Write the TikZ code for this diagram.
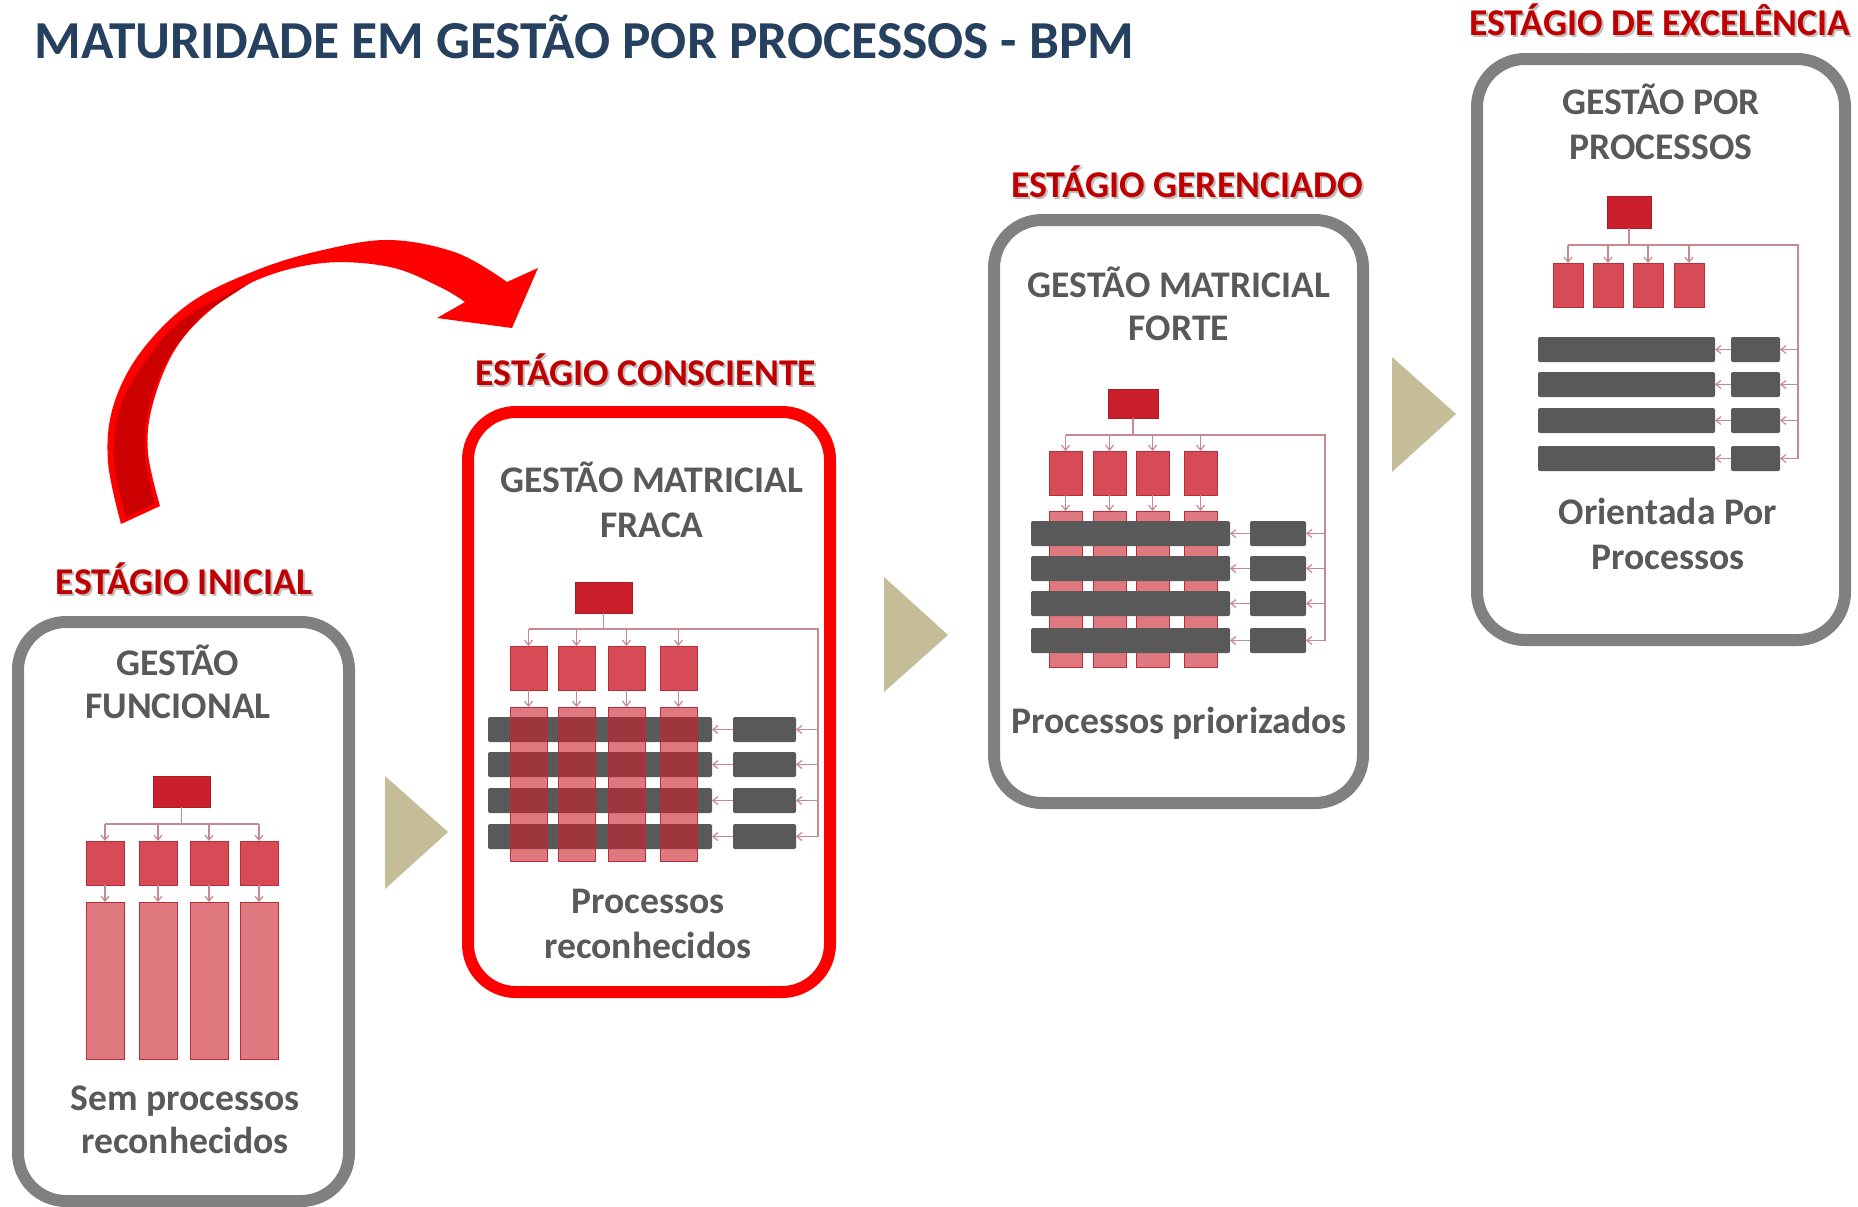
\documentclass[tikz,border=0pt]{standalone}
\usepackage{fontspec}
\setmainfont{Carlito}
\usetikzlibrary{arrows.meta,fit}

\definecolor{titleblue}{HTML}{26405F}
\definecolor{stagered}{HTML}{C00000}
\definecolor{txtgray}{HTML}{595959}
\definecolor{framegray}{HTML}{808080}
\definecolor{chevtan}{HTML}{C4BD97}
\definecolor{chief}{HTML}{CB1F2B}
\definecolor{dept}{HTML}{D64B55}
\definecolor{deptline}{HTML}{B82D38}
\definecolor{column}{HTML}{E07880}
\definecolor{procgray}{HTML}{595959}
\definecolor{wire}{HTML}{C98791}
\definecolor{arrowred}{HTML}{FF0000}
\definecolor{arrowdark}{HTML}{CC0000}

\tikzset{
  panel/.style={inner sep=0pt, outer sep=0pt, line width=6pt, rounded corners=24pt, fill=white},
  stagetext/.style={font=\bfseries\fontsize{18.9}{22}\selectfont, text=stagered, inner sep=0pt, anchor=base},
  stageshadow/.style={stagetext, text=black, text opacity=0.25},
  boxtext/.style={font=\bfseries\fontsize{18.8}{22}\selectfont, text=txtgray, inner sep=0pt, anchor=base},
  blk/.style={inner sep=0pt, outer sep=0pt, line width=0.5pt},
  chiefbox/.style={blk, fill=chief, draw=chief!85!black},
  deptbox/.style={blk, fill=dept, draw=deptline},
  colbox/.style={blk, fill=column, draw=deptline},
  colglass/.style={blk, fill=chief, fill opacity=0.6, draw=deptline},
  procbar/.style={blk, fill=procgray, rounded corners=1pt},
  wireline/.style={draw=wire, line width=0.6pt},
  wirearrow/.style={wireline, -{Straight Barb[length=2.5pt,width=4pt]}},
  chevron/.style={fill=chevtan}
}

\begin{document}
\begin{tikzpicture}[x=0.5pt,y=-0.5pt]
\useasboundingbox[fill=white] (0,0) rectangle (1858,1206);

% ---------- title ----------
\node[font=\bfseries\fontsize{26.7}{30}\selectfont, text=titleblue, inner sep=0pt, anchor=base west]
  (title) at (34,58) {MATURIDADE EM GESTÃO POR PROCESSOS - BPM};

% ---------- curved arrow ----------
\fill[arrowred]
  plot[smooth, tension=0.6] coordinates {(121,524) (108,462) (113,407) (140,353) (190,303) (257,270) (323,250) (390,240) (457,253) (507,282)}
  -- (538,268) -- (512,328) -- (437,318)
  -- plot[smooth, tension=0.6] coordinates {(465,302) (440,287) (390,267) (323,263) (257,280) (207,313) (173,353) (152,407) (148,453) (160,506)}
  -- cycle;
\fill[arrowdark]
  plot[smooth, tension=0.6] coordinates {(126,518) (114,460) (121,405) (150,355) (185,318) (250,283)}
  -- plot[smooth, tension=0.6] coordinates {(204,313) (170,355) (149,407) (145,453) (155,503)}
  -- cycle;

% ---------- chevrons between stages ----------
\fill[chevron] (385,776) -- (448,832) -- (385,889) -- cycle;
\fill[chevron] (884,577) -- (948,635) -- (884,692) -- cycle;
\fill[chevron] (1392,357) -- (1456,414) -- (1392,472) -- cycle;

% ---------- stage labels ----------
\foreach \n/\x/\y/\t in {s1/184/594/ESTÁGIO INICIAL, s2/646/385/ESTÁGIO CONSCIENTE,
                         s3/1187/197/ESTÁGIO GERENCIADO, s4/1660/35/ESTÁGIO DE EXCELÊNCIA}{
  \node[stageshadow] (\n shadow) at (\x+2,\y+2) {\t};
  \node[stagetext] (\n) at (\x,\y) {\t};
}

% ---------- panel frames ----------
\node[panel, draw=framegray, fit={(18,622)(349,1201)}] (panel1) {};
\node[panel, draw=arrowred, fit={(468,412)(830,992)}] (panel2) {};
\node[panel, draw=framegray, fit={(994,220)(1363,803)}] (panel3) {};
\node[panel, draw=framegray, fit={(1477,59)(1845,640)}] (panel4) {};

% ---------- panel 1: functional ----------
\node[boxtext] (p1h1) at (178,675) {GESTÃO};
\node[boxtext] (p1h2) at (178,718) {FUNCIONAL};
\node[chiefbox, fit={(153,776)(210,807)}] (p1chief) {};
\foreach \i/\x in {1/86,2/139,3/190,4/240}{
  \node[deptbox, fit={(\x,841)(\x+38,885)}] (p1d\i) {};
  \node[colbox, fit={(\x,902)(\x+38,1059)}] (p1c\i) {};
}
\coordinate (p1bus) at (259,824);
\draw[wireline] (p1chief.south) -- (p1chief.south |- p1bus);
\draw[wireline] (p1d1.north |- p1bus) -- (p1bus);
\foreach \i in {1,...,4}{
  \draw[wirearrow] (p1d\i.north |- p1bus) -- (p1d\i.north);
  \draw[wirearrow] (p1d\i.south) -- (p1c\i.north);
}
\node[boxtext] (p1f1) at (185,1110) {Sem processos};
\node[boxtext] (p1f2) at (185,1153) {reconhecidos};

% ---------- panel 2: weak matrix ----------
\node[boxtext] (p2h1) at (652,492) {GESTÃO MATRICIAL};
\node[boxtext] (p2h2) at (652,537) {FRACA};
\node[chiefbox, fit={(575,582)(632,613)}] (p2chief) {};
\foreach \i/\x in {1/510,2/558,3/608,4/660}{
  \node[deptbox, fit={(\x,646)(\x+37,690)}] (p2d\i) {};
}
\foreach \i/\y in {1/717,2/752,3/788,4/824}{
  \node[procbar, fit={(488,\y)(712,\y+25)}] (p2b\i) {};
  \node[procbar, fit={(733,\y)(796,\y+25)}] (p2s\i) {};
}
\foreach \i/\x in {1/510,2/558,3/608,4/660}{
  \node[colglass, fit={(\x,707)(\x+37,861)}] (p2c\i) {};
}
\coordinate (p2bus) at (818,629);
\draw[wireline] (p2chief.south) -- (p2chief.south |- p2bus);
\draw[wireline] (p2d1.north |- p2bus) -- (p2bus) -- (p2bus |- p2s4.east);
\foreach \i in {1,...,4}{
  \draw[wirearrow] (p2d\i.north |- p2bus) -- (p2d\i.north);
  \draw[wirearrow] (p2d\i.south) -- (p2c\i.north);
  \draw[wirearrow] (p2bus |- p2s\i.east) -- (p2s\i.east);
  \draw[wirearrow] (p2s\i.west) -- (p2b\i.east);
}
\node[boxtext] (p2f1) at (648,913) {Processos};
\node[boxtext] (p2f2) at (648,958) {reconhecidos};

% ---------- panel 3: strong matrix ----------
\node[boxtext] (p3h1) at (1179,297) {GESTÃO MATRICIAL};
\node[boxtext] (p3h2) at (1179,340) {FORTE};
\node[chiefbox, fit={(1108,389)(1158,418)}] (p3chief) {};
\foreach \i/\x in {1/1049,2/1093,3/1136,4/1184}{
  \node[deptbox, fit={(\x,451)(\x+33,495)}] (p3d\i) {};
  \node[colbox, fit={(\x,511)(\x+33,667)}] (p3c\i) {};
}
\foreach \i/\y in {1/521,2/556,3/591,4/628}{
  \node[procbar, fit={(1031,\y)(1230,\y+25)}] (p3b\i) {};
  \node[procbar, fit={(1250,\y)(1306,\y+25)}] (p3s\i) {};
}
\coordinate (p3bus) at (1325,435);
\draw[wireline] (p3chief.south) -- (p3chief.south |- p3bus);
\draw[wireline] (p3d1.north |- p3bus) -- (p3bus) -- (p3bus |- p3s4.east);
\foreach \i in {1,...,4}{
  \draw[wirearrow] (p3d\i.north |- p3bus) -- (p3d\i.north);
  \draw[wirearrow] (p3d\i.south) -- (p3c\i.north);
  \draw[wirearrow] (p3bus |- p3s\i.east) -- (p3s\i.east);
  \draw[wirearrow] (p3s\i.west) -- (p3b\i.east);
}
\node[boxtext] (p3f1) at (1179,733) {Processos priorizados};

% ---------- panel 4: process management ----------
\node[boxtext] (p4h1) at (1661,114) {GESTÃO POR};
\node[boxtext] (p4h2) at (1661,159) {PROCESSOS};
\node[chiefbox, fit={(1607,196)(1651,228)}] (p4chief) {};
\foreach \i/\x in {1/1553,2/1593,3/1633,4/1674}{
  \node[deptbox, fit={(\x,263)(\x+30,307)}] (p4d\i) {};
}
\foreach \i/\y in {1/337,2/372,3/408,4/446}{
  \node[procbar, fit={(1538,\y)(1715,\y+25)}] (p4b\i) {};
  \node[procbar, fit={(1731,\y)(1780,\y+25)}] (p4s\i) {};
}
\coordinate (p4bus) at (1798,245);
\draw[wireline] (p4chief.south) -- (p4chief.south |- p4bus);
\draw[wireline] (p4d1.north |- p4bus) -- (p4bus) -- (p4bus |- p4s4.east);
\foreach \i in {1,...,4}{
  \draw[wirearrow] (p4d\i.north |- p4bus) -- (p4d\i.north);
  \draw[wirearrow] (p4bus |- p4s\i.east) -- (p4s\i.east);
  \draw[wirearrow] (p4s\i.west) -- (p4b\i.east);
}
\node[boxtext] (p4f1) at (1668,524) {Orientada Por};
\node[boxtext] (p4f2) at (1668,569) {Processos};
\end{tikzpicture}
\end{document}
